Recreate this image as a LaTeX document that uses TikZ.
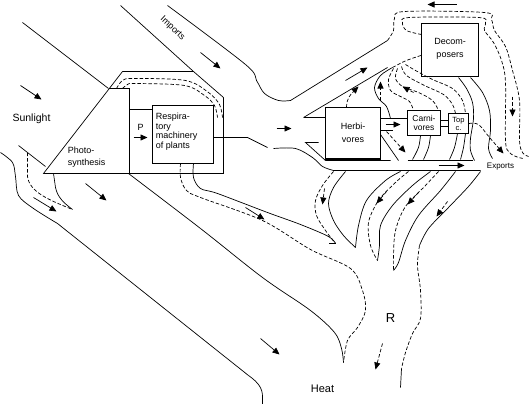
\documentclass[tikz,border=0pt]{standalone}
\usepackage{fontspec}
\setmainfont{Liberation Sans}
\usetikzlibrary{arrows.meta}
\begin{document}
\begin{tikzpicture}[x=1pt,y=-1pt,line width=0.7pt,
  dsh/.style={dash pattern=on 3.5pt off 2pt},
  arr/.style={-{Triangle[length=7pt,width=6pt]}},
  box/.style={draw,inner sep=0pt,line width=0.8pt},
  sm/.style={smooth,tension=0.55},
  txt/.style={inner sep=0pt,font=\fontsize{9}{9.5}\selectfont}]
\useasboundingbox (0,0) rectangle (530,404);
\begin{scope}[shift={(0.5,0.5)}]
% ---------- boxes ----------
\node[box,minimum width=61pt,minimum height=58pt] (resp) at (182.5,134) {};
\node[txt,align=left,anchor=west] (resptxt) at (155,131) {Respira-\\tory\\machinery\\of plants};
\node[txt,align=left,anchor=west,font=\fontsize{9}{12.5}\selectfont] (photo) at (67,156.5) {Photo-\\synthesis};
\node[txt] (P) at (140,127) {P};

\node[box,minimum width=55pt,minimum height=51pt] (herb) at (352.5,132.5) {};
\node[txt,align=center,font=\fontsize{9}{12.5}\selectfont] (herbtxt) at (herb) {Herbi-\\vores};
\draw[line width=1.6pt] (herb.south west) -- (herb.south east);

\node[box,line width=1.1pt,minimum width=33pt,minimum height=25pt] (carn) at (423.5,122.5) {};
\node[txt,align=center,font=\fontsize{8.5}{8.5}\selectfont] (carntxt) at (carn) {Carni-\\vores};

\node[box,line width=1pt,minimum width=20pt,minimum height=20pt] (topc) at (458,123) {};
\node[txt,align=center,font=\fontsize{7.5}{8}\selectfont] (toptxt) at (topc) {Top\\c.};

\node[box,line width=1.2pt,minimum width=57pt,minimum height=53pt] (dec) at (449.5,49.5) {};
\node[txt,align=center,font=\fontsize{9}{13}\selectfont] (dectxt) at (449.5,48.5) {Decom-\\posers};

% ---------- labels ----------
\node[txt,font=\fontsize{10.5}{12}\selectfont] (sun) at (31,118) {Sunlight};
\node[txt,rotate=-43] (imp) at (172,28) {Imports};
\node[txt,font=\fontsize{8}{9}\selectfont] (exp) at (500,166) {Exports};
\node[txt,font=\fontsize{13}{14}\selectfont] (R) at (390,318) {R};
\node[txt,font=\fontsize{11}{12}\selectfont] (heat) at (322,388) {Heat};

% ---------- plant hull ----------
\draw (43,173) -- (122,71) -- (193,71) -- (223,97) -- (223,173) -- cycle;
\draw[line width=1.8pt] (108,88) -- (129,88);
\draw (129,88) -- (129,173);
\draw (129,109) -- (resp.west |- 0,109);
\draw[arr] (133,137) -- (147,137);
\draw[dsh] plot[sm] coordinates {(116,88) (122,80) (133,78) (185,80) (208,92) (219,104) (222,117)};
\draw[dsh] plot[sm] coordinates {(122,88) (127,84) (135,83) (184,85) (204,95) (214,105) (217,117)};

% ---------- sunlight stream ----------
\draw (22,22) -- (108,88);
\draw (120,5) -- (193,71);
\draw (18,145) -- (45,166);
\draw plot[sm] coordinates {(0,152) (12,162) (15,176) (18,195) (33,208) (57,223)} -- (248,375) .. controls (258,382) and (262,388) .. (262,396) -- (262,404);
\draw[dsh] (27,152) -- (27,176) .. controls (29,192) and (50,200) .. (72,209);
\draw (53,173) -- (55,187) .. controls (57,197) and (64,203) .. (72,209);
\draw[arr] (20,85) -- (41,99);
\draw[arr] (33,197) -- (56,211);
\draw[arr] (85,183) -- (106,200);
\draw plot[sm] coordinates {(128,173) (200,228) (262,277) (310,310) (334,332) (341,348) (343,362)};
\draw[arr] (260,338) -- (279,354);

% ---------- imports ----------
\draw plot[sm] coordinates {(167,5) (245,64) (256,80) (264,93) (278,100) (290,100)} -- (387,40);
\draw[arr] (200,52) -- (220,68);

% ---------- main stream to consumers ----------
\draw (resp.east |- 0,137) -- (247,137) -- (267,147);
\draw plot[sm] coordinates {(273,148) (295,148) (312,157) (322,166) (333,170)} -- (480,170);
\draw (318,142) -- (305,142) -- (325,160) -- (390,160);
\draw (407,160) -- (472,160);
\draw (303,117) -- (herb.west |- 0,117);
\draw (303,117) -- (387,67);
\draw[arr] (276,128) -- (291,128);
\draw[arr] (345,80) -- (367,67);
\draw[arr] (438,165) -- (464,165);

% herbivores -> carnivores
\draw (herb.east |- 0,118) -- (carn.west |- 0,118);
\draw (herb.east |- 0,130) -- (392,130);
\draw[arr] (385,124) -- (400,124);
\draw[dsh,arr] (386,131) -- (405,152);
\draw (380,134) -- (398,160);
\draw (carn.east |- 0,120) -- (topc.west |- 0,120);
\draw (carn.east |- 0,126) -- (topc.west |- 0,126);

% upward dashed arrows from herbivores
\draw[dsh,arr] (346,107) .. controls (346,98) and (350,94) .. (358,86);
\draw[dsh,arr] (380,100) -- (380,81);

% ---------- fan near decomposers ----------
\coordinate (fc) at (392,67);
\draw[dsh] (fc) .. controls (405,60) .. (dec.west |- 0,55);
\draw plot[sm] coordinates {(392,67) (380,75) (374,87) (378,98) (386,106) (390,118)};
\draw[dsh] plot[sm] coordinates {(393,68) (388,79) (390,90) (400,96) (409,101) (413,110)};
\draw[dsh] plot[sm] coordinates {(397,68) (395,78) (402,86) (418,92) (432,100) (438,110)};
\draw[dsh] plot[sm] coordinates {(401,66) (406,75) (424,85) (443,94) (452,104) (455,113)};
\draw[dsh] plot[sm] coordinates {(405,64) (415,70) (432,79) (452,88) (462,100) (465,113)};
\draw[dsh,arr] (413,92) -- (402,86);

% decomposer loops and right-hand return
\draw[dsh] plot[sm] coordinates {(387,40) (393,30) (394,18) (404,11) (484,12) (491,19) (494,30) (505,46) (512,70) (519,100) (519,140) (522,152) (528,156)};
\draw[dsh] plot[sm] coordinates {(421,34) (406,30) (402,22) (409,17) (478,17) (485,22) (484,30) (493,42) (501,60) (505,82) (505,140) (509,152) (518,157) (524,158)};
\draw[arr] (456,4) -- (427,4);
\draw[dsh,arr] (512,96) -- (512,116);

% lines below decomposers
\draw plot[sm] coordinates {(458,77) (466,88) (472,102) (473,118) (470,138) (470,150) (474,160)};
\draw plot[sm] coordinates {(470,77) (482,92) (489,110) (490,130) (488,148) (492,158)};
\draw[dsh,arr] plot[sm] coordinates {(topc.east |- 0,123) (478,124) (489,137) (503,153)};
\draw plot[sm] coordinates {(420,135) (418,147) (412,159)};
\draw plot[sm] coordinates {(430,135) (428,147) (423,159)};
\draw plot[sm] coordinates {(457,133) (454,147) (449,159)};
\draw plot[sm] coordinates {(465,133) (463,147) (460,159)};

% ---------- respiration streams ----------
\draw[dsh] plot[sm] coordinates {(180,163) (180,177) (186,190) (200,197) (262,220) (310,249) (350,268) (362,290) (365,310) (357,327) (347,340) (343,362)};
\draw plot[sm] coordinates {(193,163) (193,177) (200,188) (217,193) (267,212) (300,224) (328,236) (335,243)};
\draw (335,243) -- (328,243);
\draw[arr] (245,207) -- (264,219);

% herbivore respiration
\draw[dsh] plot[sm] coordinates {(333,171) (322,185) (315,200) (316,215) (325,230) (335,243)};
\draw plot[sm] coordinates {(345,171) (333,187) (328,203) (333,220) (343,235) (355,247)};
\draw[dsh,arr] (324,188) -- (322,204);

% carnivore / decomposer respiration tongues
\draw plot[sm] coordinates {(400,171) (385,180) (366,200) (358,225) (355,247)};
\draw[dsh,arr] (386,191) -- (376,203);
\draw[dsh] plot[sm] coordinates {(408,171) (395,182) (378,200) (368,222) (370,245) (377,260)};
\draw plot[sm] coordinates {(430,171) (412,185) (392,205) (380,225) (379,245) (377,260)};
\draw[dsh,arr] (418,192) -- (407,204);
\draw[dsh] plot[sm] coordinates {(438,171) (425,185) (405,206) (395,230) (393,255) (393,270)};
\draw plot[sm] coordinates {(455,171) (440,190) (418,215) (405,240) (398,262) (393,270)};
\draw[dsh,arr] (447,201) -- (436,216);

% R stream right boundary
\draw plot[sm] coordinates {(480,171) (468,186) (448,207) (428,228) (419,245)};
\draw[dsh] plot[sm] coordinates {(419,245) (417,265) (420,290) (420,318) (412,333) (405,352) (401,368)};
\draw (401,368) -- (400,387);
\draw[dsh,arr] (382,343) -- (375,369);
\end{scope}
\end{tikzpicture}
\end{document}
